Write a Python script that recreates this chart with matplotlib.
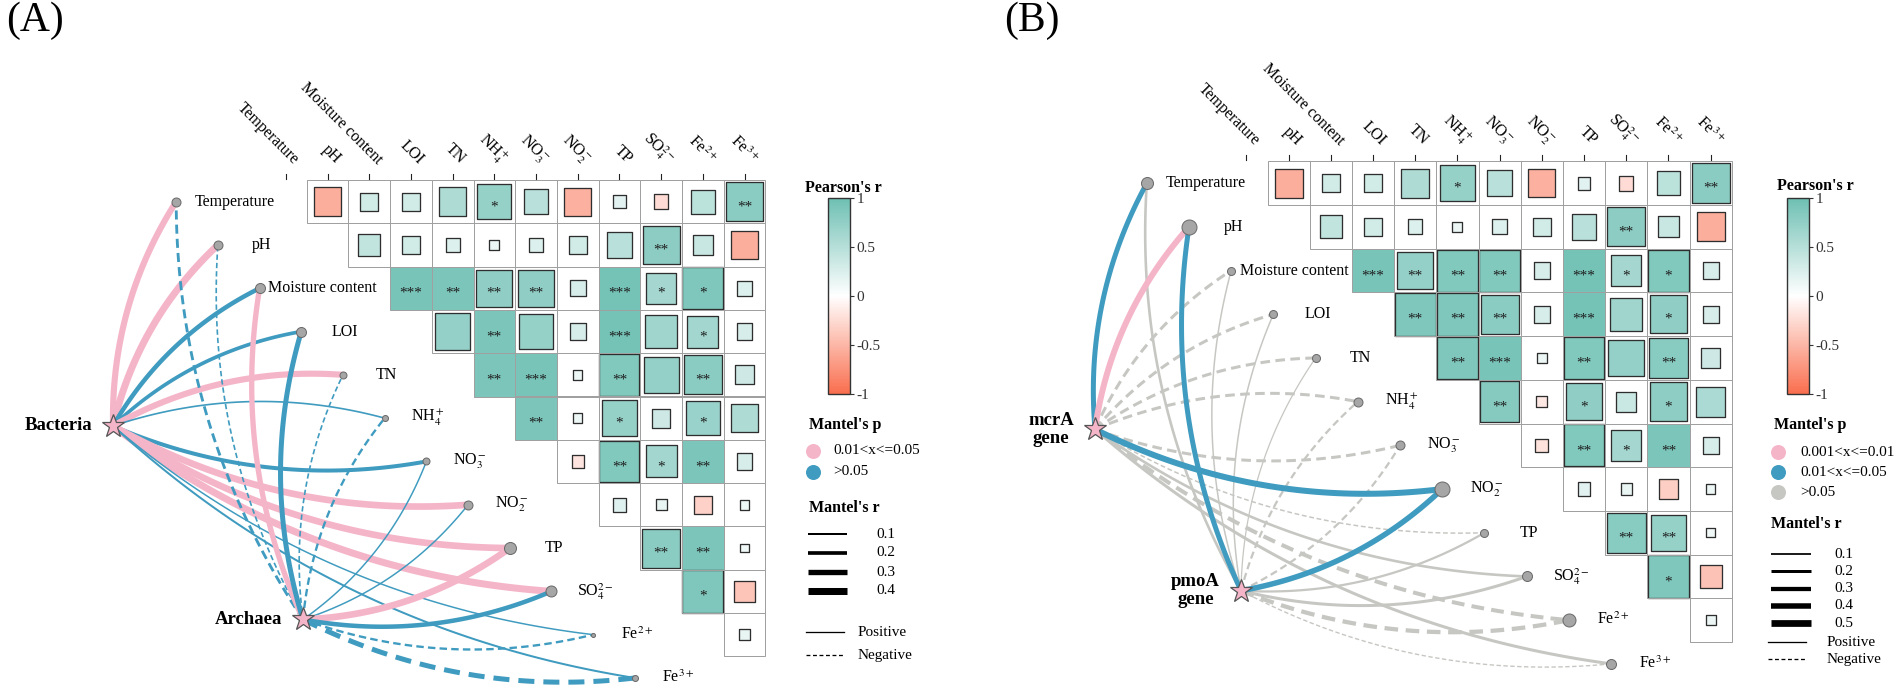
import numpy as np
import matplotlib
matplotlib.use("Agg")
import matplotlib.pyplot as plt
from matplotlib.colors import LinearSegmentedColormap, Normalize
from matplotlib.patches import Rectangle
from matplotlib.cm import ScalarMappable

plt.rcParams['font.family'] = ['Liberation Serif', 'DejaVu Serif']
plt.rcParams['mathtext.fontset'] = 'stix'

# ======================= DATA =======================
env_labels = ['Temperature', 'pH', 'Moisture content', 'LOI', 'TN',
              r'NH$_4^+$', r'NO$_3^-$', r'NO$_2^-$', 'TP',
              r'SO$_4^{2-}$', r'Fe$^{2+}$', r'Fe$^{3+}$']

# Pearson's r (upper triangle, row i holds columns i+1 .. 11)
pearson_A = [
    [-0.56, 0.32, 0.32, 0.56, 0.72, 0.48, -0.54, 0.20, -0.24, 0.46, 0.80],
    [0.42, 0.32, 0.24, 0.14, 0.24, 0.32, 0.48, 0.79, 0.38, -0.56],
    [0.92, 0.90, 0.76, 0.76, 0.28, 0.95, 0.62, 0.88, 0.24],
    [0.74, 0.90, 0.72, 0.28, 0.95, 0.66, 0.64, 0.28],
    [0.90, 0.92, 0.12, 0.86, 0.74, 0.80, 0.34],
    [0.90, 0.12, 0.72, 0.34, 0.70, 0.56],
    [-0.18, 0.86, 0.64, 0.90, 0.28],
    [0.22, 0.16, -0.32, 0.12],
    [0.80, 0.90, 0.10],
    [0.88, -0.40],
    [0.16],
]
signif_A = [
    ['', '', '', '', '*', '', '', '', '', '', '**'],
    ['', '', '', '', '', '', '', '**', '', ''],
    ['***', '**', '**', '**', '', '***', '*', '*', ''],
    ['', '**', '', '', '***', '', '*', ''],
    ['**', '***', '', '**', '', '**', ''],
    ['**', '', '*', '', '*', ''],
    ['', '**', '*', '**', ''],
    ['', '', '', ''],
    ['**', '**', ''],
    ['*', ''],
    [''],
]
pearson_B = [
    [-0.56, 0.32, 0.32, 0.56, 0.72, 0.48, -0.54, 0.20, -0.24, 0.46, 0.80],
    [0.42, 0.32, 0.24, 0.14, 0.24, 0.32, 0.48, 0.79, 0.38, -0.56],
    [0.92, 0.74, 0.86, 0.86, 0.28, 0.95, 0.62, 0.86, 0.28],
    [0.88, 0.88, 0.80, 0.28, 0.95, 0.66, 0.76, 0.28],
    [0.88, 0.92, 0.14, 0.86, 0.74, 0.82, 0.34],
    [0.84, -0.16, 0.76, 0.36, 0.78, 0.58],
    [-0.20, 0.86, 0.62, 0.90, 0.28],
    [0.20, 0.16, -0.34, 0.12],
    [0.82, 0.72, 0.10],
    [0.88, -0.42],
    [0.14],
]
signif_B = [
    ['', '', '', '', '*', '', '', '', '', '', '**'],
    ['', '', '', '', '', '', '', '**', '', ''],
    ['***', '**', '**', '**', '', '***', '*', '*', ''],
    ['**', '**', '**', '', '***', '', '*', ''],
    ['**', '***', '', '**', '', '**', ''],
    ['**', '', '*', '', '*', ''],
    ['', '**', '*', '**', ''],
    ['', '', '', ''],
    ['**', '**', ''],
    ['*', ''],
    [''],
]

# Mantel tests (signed r: negative -> dashed); p class index into p_labels
species_A = ['Bacteria', 'Archaea']
mantel_r_A = [
    [0.35, 0.40, 0.25, 0.20, 0.35, 0.08, 0.22, 0.38, 0.38, 0.40, 0.07, 0.10],
    [-0.15, -0.08, 0.30, 0.28, -0.08, -0.12, 0.07, 0.07, 0.38, 0.25, -0.12, -0.28],
]
mantel_p_A = [
    [0, 0, 1, 1, 0, 1, 1, 0, 0, 0, 1, 1],
    [1, 1, 0, 1, 1, 1, 1, 1, 0, 1, 1, 1],
]
p_labels_A = ['0.01<x<=0.05', '>0.05']
r_breaks_A = [0.1, 0.2, 0.3, 0.4]
node_size_A = [9, 9, 10, 10, 7, 6, 7, 9, 12, 11, 4, 6]

species_B = ['mcrA\ngene', 'pmoA\ngene']
mantel_r_B = [
    [0.36, 0.44, -0.20, -0.20, -0.20, -0.20, -0.20, 0.44, -0.08, 0.17, -0.28, 0.20],
    [0.17, 0.36, 0.08, 0.08, 0.06, -0.14, -0.14, 0.40, 0.14, 0.20, -0.30, -0.07],
]
mantel_p_B = [
    [1, 0, 2, 2, 2, 2, 2, 1, 2, 2, 2, 2],
    [2, 1, 2, 2, 2, 2, 2, 1, 2, 2, 2, 2],
]
p_labels_B = ['0.001<x<=0.01', '0.01<x<=0.05', '>0.05']
r_breaks_B = [0.1, 0.2, 0.3, 0.4, 0.5]
node_size_B = [12, 15, 8, 8, 8, 9, 9, 15, 8, 10, 13, 10]

cbar_ticks = [-1, -0.5, 0, 0.5, 1]
cbar_ticklabels = ['-1', '-0.5', '0', '0.5', '1']

# ======================= STYLE / LAYOUT =======================
W, H, DPI = 1902, 698, 100
PT = 72.0 / DPI
P_COLORS = ['#F5B5C9', '#3F9BBF', '#C6C6C2']
GRID = '#A0A0A0'
EDGE = '#2E2E2E'
cmap = LinearSegmentedColormap.from_list('pear', ['#F96E4E', '#FFFFFF', '#6EBFB3'])
norm = Normalize(-1, 1)
CURV = 0.15

LAY_A = dict(x0=265.0, y0=180.0, cw=41.7, rh=43.3, node_dx=-2.13,
             star=[(-3.645, -5.68), (0.911, -10.15)],
             lw0=0.33, lwk=16.7, tag='(A)', tag_x=6)
LAY_B = dict(x0=1225.3, y0=161.3, cw=42.2, rh=43.7, node_dx=-1.86,
             star=[(-3.088, -6.133), (0.372, -9.826)],
             lw0=0.5, lwk=12.5, tag='(B)', tag_x=1004)
LEG_A = dict(tx=805, pear_y=188, cb=(828, 850, 198, 394), p_tx=809, p_title_y=425,
             p_x=813, p_lab_x=833, p_y0=451, p_dy=20.5, r_tx=809, r_title_y=508,
             r_x=(808, 847), r_lab_x=876, r_y0=534, r_dy=19, pn_x=(806, 844),
             pn_lab_x=858, pos_y=632, neg_y=655)
LEG_B = dict(tx=1777, pear_y=186, cb=(1787, 1809, 198, 394), p_tx=1774, p_title_y=425,
             p_x=1778, p_lab_x=1800, p_y0=452, p_dy=20, r_tx=1771, r_title_y=524,
             r_x=(1771, 1811), r_lab_x=1834, r_y0=554, r_dy=17.3, pn_x=(1768, 1806),
             pn_lab_x=1827, pos_y=642, neg_y=659)

fig = plt.figure(figsize=(W / DPI, H / DPI), dpi=DPI)


def panel_axes(lay):
    ax = fig.add_axes([0, 0, 1, 1])
    ax.set_xlim(-lay['x0'] / lay['cw'], (W - lay['x0']) / lay['cw'])
    ax.set_ylim(-(H - lay['y0']) / lay['rh'], lay['y0'] / lay['rh'])
    ax.axis('off')
    ax.patch.set_alpha(0)
    return ax


def draw_link(ax, lay, p0, p1, bend, color, lw_px, dashed, z):
    s = np.array([lay['cw'], lay['rh']])
    a = np.asarray(p0) * s
    b = np.asarray(p1) * s
    d = b - a
    L = np.hypot(*d)
    nrm = np.array([-d[1], d[0]]) / L
    c = (a + b) / 2 + bend * CURV * L * nrm
    t = np.linspace(0, 1, 120)[:, None]
    pts = ((1 - t) ** 2 * a + 2 * t * (1 - t) * c + t ** 2 * b) / s
    ls = (0, (3.2, 1.8)) if dashed else '-'
    ax.plot(pts[:, 0], pts[:, 1], color=color, lw=lw_px * PT, ls=ls,
            solid_capstyle='butt', dash_capstyle='butt', zorder=z)


def draw_panel(lay, pear, sig, species, mr, mp, node_px):
    ax = panel_axes(lay)
    n = len(env_labels)
    # heatmap
    for i, row in enumerate(pear):
        for k, r in enumerate(row):
            j = i + 1 + k
            ax.add_patch(Rectangle((j, -(i + 1)), 1, 1, fc='white', ec='none', zorder=1))
            side = min(1.0, 0.1 + abs(r))
            full = side >= 0.99
            ax.add_patch(Rectangle((j + 0.5 - side / 2, -(i + 0.5) - side / 2), side, side,
                                   fc=cmap(norm(r)), ec=('none' if full else EDGE),
                                   lw=1.3 * PT, joinstyle='round', zorder=2))
            ax.add_patch(Rectangle((j, -(i + 1)), 1, 1, fc='none', ec=GRID, lw=1.0 * PT, zorder=3))
            if sig[i][k]:
                ax.text(j + 0.5, -(i + 0.5) - 0.12, sig[i][k], ha='center', va='center',
                        fontsize=11, color='#1E1E1E', zorder=4)
    # column ticks and labels
    for j in range(n):
        ax.plot([j + 0.5, j + 0.5], [0.02, 0.14], color='#222222', lw=1.1 * PT, zorder=3)
        ax.text(j + 0.5 + 0.18, 0.36, env_labels[j], rotation=-45, rotation_mode='anchor',
                ha='right', va='baseline', fontsize=11.5, color='black')
    # links
    order = sorted([(0 if mp[s][e] == 2 else 1, s, e)
                    for s in range(len(species)) for e in range(n)])
    for z, (_, s, e) in enumerate(order):
        node = (e + lay['node_dx'], -(e + 0.5))
        bend = 1 if e < n / 2 else -1
        r = mr[s][e]
        draw_link(ax, lay, lay['star'][s], node, bend, P_COLORS[mp[s][e]],
                  lay['lw0'] + lay['lwk'] * abs(r), r < 0, 5 + z * 0.01)
    # nodes and labels
    for e in range(n):
        x, y = e + lay['node_dx'], -(e + 0.5)
        ax.plot(x, y, 'o', ms=node_px[e] * PT, mfc='#A6A6A6', mec='#6A6A6A',
                mew=1.0 * PT, zorder=8)
        if e == 0:
            ax.text(x + 0.45, y, env_labels[e], ha='left', va='center', fontsize=11.5, zorder=8)
        elif e == 2:
            ax.text(x + 0.2, y, env_labels[e], ha='left', va='center', fontsize=11.5, zorder=8)
        else:
            ax.text(x + 1.05, y, env_labels[e], ha='center', va='center', fontsize=11.5, zorder=8)
    # species stars
    for s, name in enumerate(species):
        sx, sy = lay['star'][s]
        ax.plot(sx, sy, marker='*', ms=17, mfc='#F5B5C9', mec='#555555', mew=0.9,
                zorder=9)
        ax.text(sx - 0.5, sy, name, ha='right', va='center', multialignment='center',
                fontsize=13.5, fontweight='bold', linespacing=1.05, zorder=9)
    return ax


axA = draw_panel(LAY_A, pearson_A, signif_A, species_A, mantel_r_A, mantel_p_A, node_size_A)
axB = draw_panel(LAY_B, pearson_B, signif_B, species_B, mantel_r_B, mantel_p_B, node_size_B)

# overlay axes in pixel units for legends and panel tags
lax = fig.add_axes([0, 0, 1, 1])
lax.set_xlim(0, W)
lax.set_ylim(H, 0)
lax.axis('off')
lax.patch.set_alpha(0)


def draw_legend(leg, lay, p_labels, r_breaks):
    lax.text(leg['tx'], leg['pear_y'], "Pearson's r", fontsize=11.5, fontweight='bold',
             ha='left', va='center')
    x0, x1, y0, y1 = leg['cb']
    cax = fig.add_axes([x0 / W, 1 - y1 / H, (x1 - x0) / W, (y1 - y0) / H])
    cb = fig.colorbar(ScalarMappable(norm=norm, cmap=cmap), cax=cax, ticks=cbar_ticks)
    cb.ax.set_yticklabels(cbar_ticklabels)
    cb.ax.tick_params(length=3, width=0.8, labelsize=11, pad=1.5, colors='#333333')
    cb.outline.set_linewidth(1.0)
    cb.outline.set_edgecolor('#333333')
    # Mantel's p
    lax.text(leg['p_tx'], leg['p_title_y'], "Mantel's p", fontsize=11.5, fontweight='bold',
             ha='left', va='center')
    for k, lab in enumerate(p_labels):
        y = leg['p_y0'] + k * leg['p_dy']
        lax.plot(leg['p_x'], y, 'o', ms=15 * PT, mfc=P_COLORS[k], mec='none')
        lax.text(leg['p_lab_x'], y, lab, fontsize=11, ha='left', va='center')
    # Mantel's r
    lax.text(leg['r_tx'], leg['r_title_y'], "Mantel's r", fontsize=11.5, fontweight='bold',
             ha='left', va='center')
    for k, rv in enumerate(r_breaks):
        y = leg['r_y0'] + k * leg['r_dy']
        lax.plot(leg['r_x'], [y, y], color='black', lw=(lay['lw0'] + lay['lwk'] * rv) * PT,
                 solid_capstyle='butt')
        lax.text(leg['r_lab_x'], y, f'{rv:g}', fontsize=11, ha='left', va='center')
    lax.plot(leg['pn_x'], [leg['pos_y']] * 2, color='black', lw=1.3 * PT)
    lax.text(leg['pn_lab_x'], leg['pos_y'], 'Positive', fontsize=11, ha='left', va='center')
    lax.plot(leg['pn_x'], [leg['neg_y']] * 2, color='black', lw=1.3 * PT, ls=(0, (3, 2)))
    lax.text(leg['pn_lab_x'], leg['neg_y'], 'Negative', fontsize=11, ha='left', va='center')
    lax.text(lay['tag_x'], 2, lay['tag'], fontsize=30, ha='left', va='top')


draw_legend(LEG_A, LAY_A, p_labels_A, r_breaks_A)
draw_legend(LEG_B, LAY_B, p_labels_B, r_breaks_B)

fig.savefig('out.png', dpi=DPI)
